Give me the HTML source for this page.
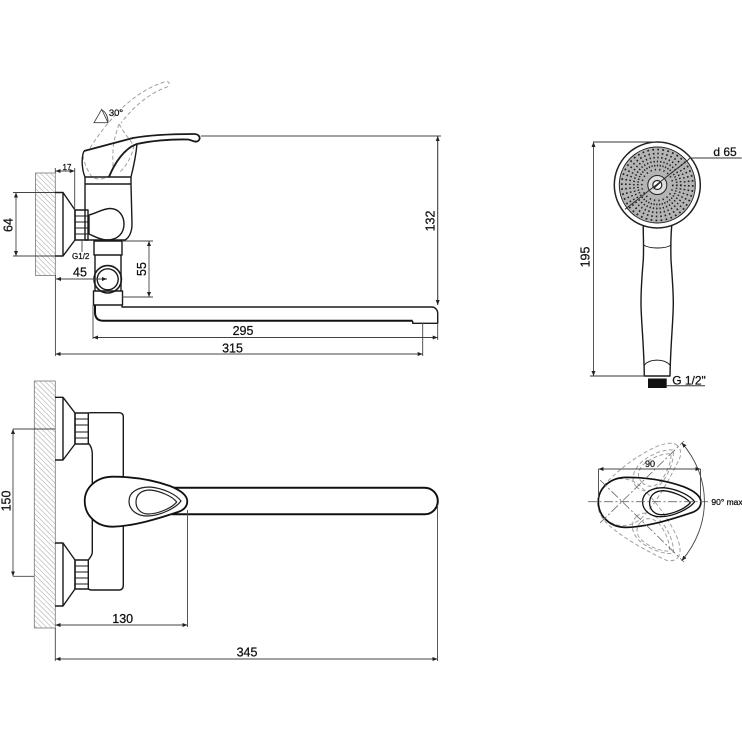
<!DOCTYPE html>
<html><head><meta charset="utf-8">
<style>
html,body{margin:0;padding:0;background:#fff}
svg{display:block}
text{font-family:"Liberation Sans",sans-serif;fill:#111;text-anchor:middle;stroke:#111;stroke-width:.25}
.d{fill:none;stroke:#444;stroke-width:.9}
.o{fill:none;stroke:#1a1a1a;stroke-width:1.4;stroke-linejoin:round}
.t{fill:none;stroke:#111;stroke-width:2}
.g{fill:none;stroke:#a0a0a0;stroke-width:1;stroke-dasharray:4 2.5}
.c{fill:none;stroke:#666;stroke-width:.8;stroke-dasharray:9 2.5 2 2.5}
.l{font-size:12.5px}
.dot{fill:none;stroke:#222;stroke-width:1.7}
</style></head>
<body>
<svg width="742" height="742" viewBox="0 0 742 742" xmlns="http://www.w3.org/2000/svg">
<defs>
<pattern id="h" width="3.6" height="3.6" patternUnits="userSpaceOnUse" patternTransform="rotate(45)">
<rect width="3.6" height="3.6" fill="#fff"/><line x1="0" y1="0" x2="3.6" y2="0" stroke="#a0a0a0" stroke-width="1"/>
</pattern>
<marker id="a" markerWidth="6" markerHeight="6" refX="5" refY="2" orient="auto-start-reverse" markerUnits="userSpaceOnUse"><path d="M0,0 L5,2 L0,4 z" fill="#222"/></marker>
<path id="hd" d="M187.3,501 C187,495 180,490 170,486 C150,479 130,476.7 113,476.7 C96,476.7 84.7,488 84.7,501 C84.7,515 96,527 113,526.7 C135,526 160,518 178,512 C184,510 187.3,506 187.3,501Z"/>
<path id="in" d="M129,501 C129,492 138,487 150,487 C162,488 176,494 181,501 C176,508 160,516 147,516 C137,516 129,510 129,501Z M136,502 C136,494 142,490 150,490 C160,491 172,496 176.7,502 C172,508 158,514 148,514 C141,514 136,509 136,502Z"/>
</defs>

<!-- ===== side view ===== -->
<rect x="35.5" y="173" width="19.8" height="102.5" fill="url(#h)" stroke="#777" stroke-width=".8"/>
<!-- dashed raised handle -->
<path class="g" d="M90,148 C100,132 112,118 122,108 C135,96 150,86 166,81.5 C170,81 170,85 167,87 C150,93 135,105 121,123 M119,124 C116,133 113,143 113,152 C112,160 115,168 110,175 C104,180 97,180 92,177 C87,170 84,162 83,156 M119,124 C124,133 130,140 134,146 C132,155 128,164 120,172"/>
<path class="d" d="M94,122.7 L101.7,109.3 L108,122.7 Z M102,110 C106,112 108,117 108,122"/>
<!-- handle -->
<path class="o" style="stroke-width:1.8" d="M84,151 L133,138 C150,135 175,134 194,134 C200,134 201,139 198,141 C195,143 192,140 188,139.5 C170,139 150,141 137,144 C125,148 115,162 109,177"/>
<path class="o" d="M84,151 C81,158 82,170 85,177 L131,177 C134,165 136,155 137,144"/>
<!-- collar / body -->
<path class="o" d="M85,177 L85,184 L131,184 L131,177 M85,184 L85,240 L125,240 C129,238 132,232 132,224 L131,184"/>
<path class="o" d="M89,215 C97,213 103,208.5 110,208.5 C119,208.5 124,216 124,224 C124,233 118,240 107,240 C100,240 94,236 89,234 Z"/>
<!-- flange upper side -->
<path class="o" d="M55,192.5 L63,192.5 L75,210 L75,240 L63,256 L55,256 M63,192.5 L63,256"/>
<rect class="o" x="75" y="210" width="13" height="30"/>
<path class="o" d="M75,216 H88 M75,222 H88 M75,228 H88 M75,234 H88" style="stroke-width:.9"/>
<!-- lower pipe -->
<rect class="o" x="94" y="241" width="28" height="14"/>
<path class="o" d="M95,255 V291 M121,255 V291"/>
<circle class="o" cx="107.7" cy="279.3" r="13.7" style="stroke-width:1.6"/>
<circle class="o" cx="107.7" cy="279.3" r="10.5"/>
<rect class="o" x="93.5" y="291" width="29" height="14"/>
<!-- spout -->
<path class="o" d="M122,305 V307 H431.7 C435,307 437.7,310 437.7,313 V323.3 H412.7 V321"/>
<path class="t" d="M95,305 V312 C95,318 98,320.7 103,320.7 H412.7"/>
<!-- side dims -->
<path class="d" d="M55.4,275 V356 M93,305 V339 M422.7,323 V356 M437.7,323 V340 M437.7,305 V136 M201,136 H441 M74.7,168 V210 M55.3,168 V173 M13,192.5 H55 M13,256 H55 M122,241 H153 M122,297 H153 M82,240 V252"/>
<path class="d" marker-start="url(#a)" marker-end="url(#a)" d="M55.5,171 H74.7"/>
<path class="d" marker-start="url(#a)" marker-end="url(#a)" d="M16,192.5 V256"/>
<path class="d" marker-start="url(#a)" marker-end="url(#a)" d="M149,241 V297"/>
<path class="d" marker-start="url(#a)" marker-end="url(#a)" d="M56,279 H107"/>
<path class="d" marker-start="url(#a)" marker-end="url(#a)" d="M93,337.5 H437.7"/>
<path class="d" marker-start="url(#a)" marker-end="url(#a)" d="M55.5,354 H422.7"/>
<path class="d" marker-start="url(#a)" marker-end="url(#a)" d="M437.7,136 V305"/>
<text x="116" y="116" style="font-size:9.5px">30°</text>
<text x="67" y="170" style="font-size:8px">17</text>
<text x="80.7" y="259" style="font-size:8px">G1/2</text>
<text class="l" x="80" y="276.5">45</text>
<text class="l" x="243" y="335">295</text>
<text class="l" x="232.5" y="352.5">315</text>
<text class="l" transform="translate(12.5,225) rotate(-90)">64</text>
<text class="l" transform="translate(146,269) rotate(-90)">55</text>
<text class="l" transform="translate(434.5,221) rotate(-90)">132</text>

<!-- ===== front view ===== -->
<rect x="34.3" y="381" width="21" height="247" fill="url(#h)" stroke="#777" stroke-width=".8"/>
<path class="o" d="M55,397.3 H63 L75,413 V444 L63,460 H55 M63,397.3 V460"/>
<rect class="o" x="75" y="413" width="13.3" height="31"/>
<path class="o" d="M75,419 H88 M75,425 H88 M75,432 H88 M75,438 H88" style="stroke-width:.9"/>
<path class="o" d="M55,543 H63 L75,560 V589 L63,606 H55 M63,543 V606"/>
<rect class="o" x="75" y="560" width="13.3" height="29"/>
<path class="o" d="M75,566 H88 M75,572 H88 M75,578 H88 M75,584 H88" style="stroke-width:.9"/>
<path class="o" d="M88.3,413 C89,412.7 90,412.7 92,412.7 H119 C122,412.7 123.3,414 123.3,417 V585 C123.3,588.5 122,590 119,590 H92 C90,590 89,589.5 88.3,589 M88.3,443 C91,446 92.3,449 92.3,454 V552 C92.3,555 90,558 88.3,560"/>
<path class="t" d="M170,487.7 H424.5 A13.3,13.3 0 0 1 424.5,514.3 H172" fill="#fff"/>
<use href="#hd" fill="#fff" stroke="#111" stroke-width="1.8"/>
<use href="#in" fill="none" stroke="#222" stroke-width="1.2"/>
<path class="d" d="M187.5,510 V627 M437.5,505 V661 M55.3,628 V661 M13,429 H55 M13,576.3 H34"/>
<path class="d" marker-start="url(#a)" marker-end="url(#a)" d="M13,429 V576.3"/>
<path class="d" marker-start="url(#a)" marker-end="url(#a)" d="M55.5,625 H187.5"/>
<path class="d" marker-start="url(#a)" marker-end="url(#a)" d="M55.5,659 H437.5"/>
<text class="l" x="122.7" y="623">130</text>
<text class="l" x="247" y="656.5">345</text>
<text class="l" transform="translate(10.5,501) rotate(-90)">150</text>

<!-- ===== shower ===== -->
<circle cx="657.3" cy="185" r="38" fill="#b4b4b4" stroke="#222" stroke-width="1"/>
<circle cx="657.3" cy="185" r="43" fill="none" stroke="#222" stroke-width="1.5"/>
<g class="dot">
<circle cx="657.3" cy="185" r="35.5" pathLength="44" stroke-dasharray=".35 .65"/>
<circle cx="657.3" cy="185" r="31.5" pathLength="44" stroke-dasharray=".35 .65"/>
<circle cx="657.3" cy="185" r="27.5" pathLength="44" stroke-dasharray=".35 .65"/>
<circle cx="657.3" cy="185" r="23.5" pathLength="44" stroke-dasharray=".4 .6"/>
<circle cx="657.3" cy="185" r="19.5" pathLength="44" stroke-dasharray=".45 .55"/>
<circle cx="657.3" cy="185" r="15.5" pathLength="22" stroke-dasharray=".3 .7"/>
</g>
<circle cx="657.3" cy="185" r="9.5" fill="#ddd" stroke="#222" stroke-width="1"/>
<circle cx="657.3" cy="185" r="4.5" fill="#fff" stroke="#222" stroke-width="1.2"/>
<path d="M654,188 L660.5,182" stroke="#222" stroke-width="1.2"/>
<path class="o" d="M643.3,226 C643,234 644,242 643.3,260 C642,275 641,290 641,303 C641,320 644,345 644.3,376 H670 C670.5,345 673.3,320 673.3,303 C673.3,290 672,275 671,260 C670.5,242 671,234 671.7,226"/>
<path class="o" style="stroke-width:1" d="M643.5,245 C650,249 665,249 671.5,245 M644.3,365 C650,358.5 664,358.5 670,365"/>
<rect x="648" y="378.5" width="18.7" height="9.5" fill="#111"/>
<path class="d" style="stroke:#333;stroke-width:1" d="M625,209.3 L688,160 L690,158 H741.7 M593,142 H657 M590,376 H645 M666,385.7 H705"/>
<path class="d" marker-start="url(#a)" marker-end="url(#a)" d="M593.5,142 V376"/>
<text class="l" x="725" y="156" style="font-size:12px">d 65</text>
<text class="l" transform="translate(589.5,257) rotate(-90)">195</text>
<text class="l" x="689" y="384.5" style="font-size:12px">G 1/2"</text>

<!-- ===== rotation ===== -->
<g transform="translate(513.6,0.7)">
<g transform="rotate(45 108 501)"><use href="#hd" class="g"/><use href="#in" class="g"/></g>
<g transform="rotate(-45 108 501)"><use href="#hd" class="g"/><use href="#in" class="g"/></g>
<use href="#hd" fill="none" stroke="#111" stroke-width="1.7"/>
<use href="#in" fill="none" stroke="#111" stroke-width="1.3"/>
</g>
<path class="c" d="M588,501.7 H708 M600,480 L684,562 M600,523 L684,441"/>
<path class="d" marker-start="url(#a)" marker-end="url(#a)" d="M681.7,442.7 C712,478 712,525 681.7,560.7"/>
<path class="d" marker-start="url(#a)" marker-end="url(#a)" d="M598.5,469 H700.5"/>
<path class="d" d="M598.5,469 V498 M700.5,469 V498"/>
<text x="650" y="467" style="font-size:9px">90</text>
<text x="727" y="505" style="font-size:8.5px">90° max</text>
</svg>
</body></html>
